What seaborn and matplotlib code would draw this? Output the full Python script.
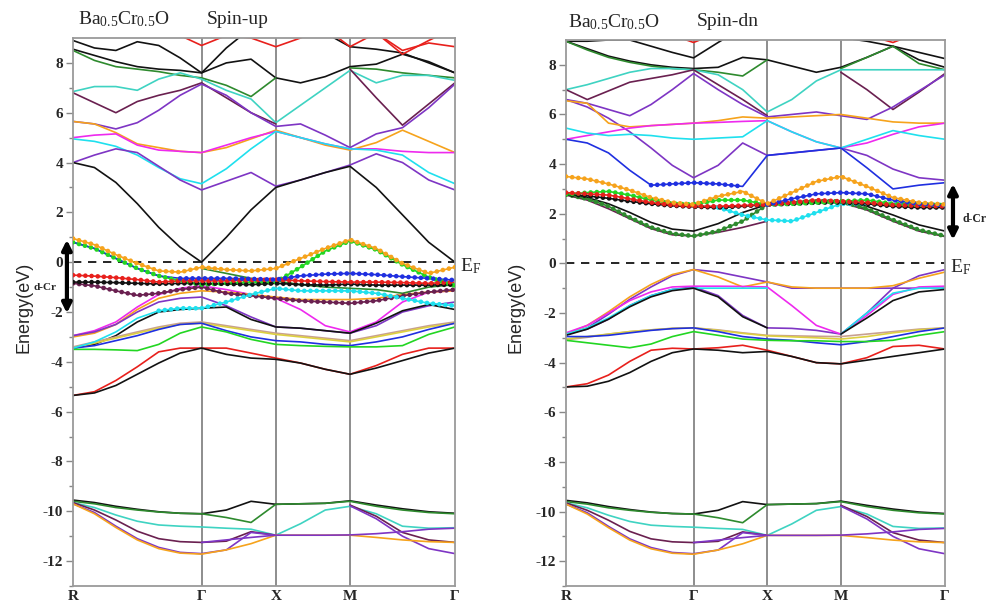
import numpy as np
import pandas as pd
import seaborn as sns
import matplotlib.pyplot as plt

# k-path: R - Gamma - X - M - Gamma (cubic cell, 2pi/a units)
K_NODES = [0.0, 0.866, 1.366, 1.866, 2.573]
K_LABELS = ["R", "Γ", "X", "M", "Γ"]
SEG_STEPS = [6, 3, 3, 4]
nan = np.nan

COLORS = {
    "black": "#121212", "red": "#e8201c", "green": "#22d622", "dkgreen": "#2e8a2e",
    "turq": "#3fd3c2", "cyan": "#1fe0ee", "magenta": "#ee2aee", "purple": "#7e35c4",
    "maroon": "#6a2050", "orange": "#f6a31c", "blue": "#1f2fe0", "tan": "#c8a090",
    "yellow": "#ddd040",
}

# ---------------- spin-up (left) ----------------
up_black_a = [8.9, 8.6, 8.5, 8.85, 8.7, 8.2, 7.6, 8.6, 9.4, 9.6, 9.6, 9.2, 8.65, 8.55, 8.4, 8.0, 7.6]
up_black_b = [8.55, 8.3, 8.05, 7.85, 7.75, 7.7, 7.6, 8.0, 8.15, 7.4, 7.2, 7.45, 7.85, 7.95, 8.35, 8.05, 7.6]
up_red_a = [9.8, 9.8, 9.8, 9.8, 9.6, 9.1, 8.7, 9.1, 9.0, 8.65, 9.0, 9.5, 9.6, 9.2, 8.35, 8.9, 9.4]
up_red_b = [nan, nan, nan, nan, nan, nan, nan, nan, nan, nan, nan, 9.4, 8.65, 9.2, 8.5, 8.8, 8.65]
up_green_a = [8.5, 8.1, 7.85, 7.75, 7.65, 7.5, 7.4, 7.1, 6.65, 7.4, nan, nan, 7.8, 7.75, 7.6, 7.5, 7.4]
up_turq_a = [6.85, 7.05, 7.05, 6.9, 7.35, 7.6, 7.35, 6.9, 6.55, 5.6, 6.3, 7.0, 7.7, 7.2, 7.5, 7.5, 7.3]
up_maroon_a = [6.8, 6.4, 6.0, 6.45, 6.7, 6.9, 7.2, 6.6, 6.0, 5.55, nan, nan, 7.75, 6.6, 5.5, 6.35, 7.2]
up_purple_a = [5.65, 5.55, 5.35, 5.6, 6.1, 6.7, 7.15, 6.7, 6.0, 5.45, 5.55, 5.1, 4.6, 5.15, 5.4, 6.2, 7.15]
up_orange_a = [5.65, 5.55, 5.2, 4.75, 4.6, 4.45, 4.4, 4.6, 4.95, 5.3, 5.0, 4.7, 4.5, 4.8, 5.3, 4.85, 4.4]
up_magenta_a = [5.0, 5.1, 5.15, 4.7, 4.5, 4.45, 4.4, 4.7, 5.0, 5.25, 5.0, 4.75, 4.55, 4.55, 4.45, 4.4, 4.4]
up_cyan_a = [4.95, 4.85, 4.65, 4.3, 3.8, 3.35, 3.15, 3.75, 4.55, 5.25, 5.0, 4.75, 4.55, 4.5, 4.3, 3.6, 3.15]
up_purple_b = [4.0, 4.3, 4.55, 4.4, 3.85, 3.3, 2.9, 3.25, 3.6, 3.05, 3.3, 3.6, 3.9, 4.35, 4.0, 3.3, 2.9]
up_black_c = [4.0, 3.8, 3.2, 2.35, 1.4, 0.6, 0.0, 1.0, 2.1, 3.0, 3.3, 3.6, 3.85, 3.0, 1.9, 0.8, 0.0]
# d-Cr bands around E_F
up_orange_d = [0.95, 0.7, 0.3, -0.05, -0.35, -0.4, -0.2, -0.3, -0.35, -0.25, 0.15, 0.55, 0.9, 0.55, -0.05, -0.45, -0.2]
up_green_d = [0.8, 0.55, 0.15, -0.25, -0.55, -0.75, -0.9, -0.85, -0.8, -0.8, -0.2, 0.45, 0.85, 0.5, -0.1, -0.6, -0.95]
up_blue_d = [0.8, 0.55, 0.15, -0.25, -0.55, -0.65, -0.65, -0.65, -0.67, -0.7, -0.55, -0.48, -0.45, -0.5, -0.58, -0.65, -0.72]
up_red_d = [-0.52, -0.56, -0.62, -0.7, -0.8, -0.75, -0.75, -0.75, -0.72, -0.7, -0.75, -0.78, -0.8, -0.8, -0.82, -0.85, -0.8]
up_black_d = [-0.8, -0.8, -0.82, -0.85, -0.87, -0.85, -0.85, -0.87, -0.9, -0.85, -0.9, -0.92, -0.88, -0.92, -0.92, -0.92, -0.9]
up_dkgreen_d = [nan, nan, nan, nan, nan, nan, -0.25, -0.45, -0.65, -0.75, -0.9, -1.0, -1.05, -1.1, -1.25, -1.0, -0.9]
up_maroon_d = [-0.85, -0.95, -1.15, -1.33, -1.25, -1.1, -1.0, -1.25, -1.35, -1.45, -1.55, -1.6, -1.65, -1.55, -1.35, -1.2, -1.1]
up_cyan_d = [-3.45, -3.2, -2.8, -2.25, -1.95, -1.85, -1.85, -1.6, -1.3, -1.05, -1.15, -1.15, -1.15, -1.25, -1.45, -1.65, -1.75]
# valence bands
up_magenta_l = [-2.95, -2.75, -2.4, -1.8, -1.3, -1.05, -0.95, -1.1, -1.3, -1.45, -1.9, -2.55, -2.8, -2.4, -1.6, -1.2, -1.15]
up_orange_l = [-3.0, -2.85, -2.5, -1.9, -1.45, -1.25, -1.15, -1.2, -1.3, -1.4, -1.5, -1.5, -1.5, -1.45, -1.3, -1.2, -1.15]
up_purple_l = [-2.95, -2.8, -2.5, -2.0, -1.6, -1.45, -1.4, -1.75, -2.2, -2.6, -2.65, -2.75, -2.85, -2.55, -2.0, -1.75, -1.6]
up_black_l = [-3.45, -3.3, -2.95, -2.4, -2.0, -1.9, -1.85, -1.8, -2.3, -2.6, -2.65, -2.75, -2.85, -2.45, -1.95, -1.7, -1.9]
up_tan_l = [-3.4, -3.2, -3.0, -2.8, -2.6, -2.45, -2.4, -2.55, -2.7, -2.85, -2.95, -3.05, -3.15, -2.95, -2.75, -2.55, -2.4]
up_yellow_l = [-3.45, -3.25, -3.05, -2.85, -2.65, -2.5, -2.45, -2.6, -2.75, -2.9, -3.0, -3.1, -3.2, -3.0, -2.8, -2.6, -2.45]
up_blue_l = [-3.45, -3.35, -3.15, -2.95, -2.7, -2.5, -2.45, -2.75, -3.0, -3.15, -3.2, -3.3, -3.35, -3.2, -3.0, -2.7, -2.45]
up_green_l = [-3.5, -3.5, -3.52, -3.55, -3.3, -2.85, -2.6, -2.8, -3.1, -3.3, -3.35, -3.38, -3.4, -3.4, -3.35, -2.9, -2.6]
up_red_l = [-5.35, -5.2, -4.75, -4.2, -3.6, -3.45, -3.45, -3.45, -3.65, -3.85, -4.05, -4.3, -4.5, -4.15, -3.7, -3.45, -3.45]
up_black_l2 = [-5.35, -5.25, -4.95, -4.5, -4.05, -3.65, -3.45, -3.7, -3.85, -3.9, -4.05, -4.3, -4.5, -4.25, -3.95, -3.65, -3.45]

# ---------------- spin-down (right) ----------------
dn_black_a = [8.95, 8.95, 9.0, 9.0, 8.75, 8.5, 8.28, 8.9, 9.5, 9.8, 9.8, 9.6, 9.1, 8.95, 8.75, 8.5, 8.25]
dn_black_b = [8.95, 8.65, 8.35, 8.15, 8.0, 7.9, 7.85, 7.9, 8.3, 8.2, 7.95, 7.7, 7.9, 8.3, 8.75, 8.2, 7.9]
dn_red_a = [9.8, 9.8, 9.8, 9.8, 9.6, 9.2, 8.9, 9.3, 9.8, 9.8, 9.8, 9.8, 9.6, 9.2, 8.9, 9.3, 9.0]
dn_green_a = [8.95, 8.6, 8.3, 8.1, 7.95, 7.85, 7.8, 7.7, 7.55, 8.2, nan, nan, 7.85, 8.3, 8.75, 8.05, 7.8]
dn_turq_a = [7.0, 7.2, 7.45, 7.7, 7.85, 7.85, 7.8, 7.6, 7.0, 6.1, 6.6, 7.35, 7.8, 7.8, 7.8, 7.8, 7.8]
dn_maroon_a = [7.0, 6.6, 6.95, 7.3, 7.45, 7.6, 7.8, 7.2, 6.6, 5.95, nan, nan, 7.7, 7.0, 6.2, 6.9, 7.65]
dn_purple_a = [6.6, 6.45, 6.2, 5.95, 6.4, 7.0, 7.65, 7.0, 6.4, 5.9, 6.0, 6.1, 5.95, 5.8, 6.3, 6.95, 7.6]
dn_purple_b = [6.6, 6.3, 5.85, 5.3, 4.65, 3.95, 3.45, 3.95, 4.85, 4.35, 4.45, 4.55, 4.65, 4.35, 3.8, 3.45, 3.35]
dn_orange_a = [6.55, 6.45, 5.65, 5.5, 5.55, 5.6, 5.65, 5.75, 5.9, 5.85, 5.9, 5.95, 6.0, 5.85, 5.7, 5.65, 5.65]
dn_magenta_a = [5.0, 5.15, 5.3, 5.45, 5.55, 5.6, 5.65, 5.68, 5.72, 5.75, 5.3, 4.9, 4.65, 4.85, 5.2, 5.5, 5.65]
dn_cyan_a = [5.45, 5.25, 5.15, 5.2, 5.15, 5.05, 5.0, 5.05, 5.1, 5.75, 5.3, 4.9, 4.65, 5.0, 5.35, 5.15, 5.0]
dn_blue_a = [5.0, 4.85, 4.45, 3.75, 3.15, 3.2, 3.25, 3.2, 3.1, 4.35, 4.45, 4.55, 4.65, 3.85, 3.0, 3.15, 3.25]
# d-Cr bands (unoccupied)
dn_orange_d = [3.5, 3.4, 3.2, 2.95, 2.65, 2.45, 2.37, 2.7, 2.9, 2.4, 2.85, 3.3, 3.5, 3.1, 2.65, 2.45, 2.37]
dn_blue_d = [nan, nan, nan, nan, nan, nan, nan, nan, nan, 2.37, 2.6, 2.8, 2.85, 2.8, 2.55, 2.4, 2.35]
dn_red_d = [2.85, 2.8, 2.75, 2.6, 2.45, 2.35, 2.3, 2.3, 2.33, 2.37, 2.45, 2.55, 2.5, 2.45, 2.35, 2.32, 2.3]
dn_black_d = [2.78, 2.72, 2.62, 2.5, 2.4, 2.32, 2.28, 2.25, 2.3, 2.37, 2.4, 2.45, 2.45, 2.4, 2.3, 2.25, 2.25]
dn_green_d = [2.78, 2.85, 2.9, 2.75, 2.55, 2.4, 2.37, 2.55, 2.55, 2.37, 2.4, 2.45, 2.5, 2.55, 2.4, 2.35, 2.35]
dn_dkgreen_d = [2.78, 2.6, 2.3, 1.85, 1.45, 1.2, 1.1, 1.3, 1.7, 2.37, 2.45, 2.5, 2.5, 2.2, 1.75, 1.35, 1.1]
dn_black_e = [2.78, 2.65, 2.4, 2.05, 1.65, 1.38, 1.3, 1.6, 2.05, 2.37, 2.42, 2.48, 2.5, 2.3, 1.95, 1.55, 1.3]
dn_maroon_d = [2.75, 2.55, 2.2, 1.8, 1.4, 1.15, 1.1, 1.25, 1.45, 1.7, nan, nan, 2.45, 2.15, 1.7, 1.3, 1.08]
dn_cyan_d = [nan, nan, nan, nan, nan, nan, 2.35, 2.25, 1.95, 1.75, 1.7, 2.05, 2.4, 2.4, 2.35, 2.3, 2.3]
# valence bands
dn_purple_v1 = [-2.88, -2.6, -2.05, -1.45, -0.95, -0.5, -0.25, -0.35, -0.55, -0.75, -1.0, -1.0, -1.0, -1.0, -1.0, -1.0, -1.0]
dn_purple_v2 = [-2.85, -2.65, -2.25, -1.7, -1.3, -1.05, -0.95, -1.3, -2.1, -2.6, -2.62, -2.7, -2.85, -2.0, -1.0, -0.5, -0.25]
dn_orange_v = [-2.85, -2.5, -1.95, -1.35, -0.85, -0.45, -0.25, -0.55, -0.95, -0.75, -0.95, -1.0, -1.0, -1.0, -0.9, -0.6, -0.35]
dn_magenta_v = [-2.8, -2.5, -2.0, -1.5, -1.15, -0.95, -0.92, -0.92, -0.93, -0.95, -1.7, -2.5, -2.85, -2.1, -1.25, -0.95, -0.92]
dn_cyan_v = [-2.85, -2.6, -2.2, -1.7, -1.3, -1.05, -1.0, -1.0, -1.0, -1.0, nan, nan, -2.85, -2.0, -1.2, -1.0, -1.0]
dn_black_v = [-2.9, -2.65, -2.25, -1.75, -1.35, -1.1, -1.0, -1.35, -2.15, -2.6, nan, nan, -2.85, -2.2, -1.5, -1.15, -1.05]
dn_tan_v = [-3.08, -2.98, -2.85, -2.75, -2.68, -2.62, -2.6, -2.68, -2.8, -2.9, -2.92, -2.94, -2.95, -2.85, -2.75, -2.65, -2.6]
dn_yellow_v = [-3.05, -2.95, -2.85, -2.75, -2.68, -2.62, -2.6, -2.7, -2.82, -2.92, -2.96, -3.0, -3.05, -2.95, -2.8, -2.68, -2.6]
dn_blue_v = [-2.95, -2.95, -2.9, -2.8, -2.7, -2.63, -2.6, -2.75, -2.95, -3.05, -3.1, -3.2, -3.28, -3.15, -2.95, -2.75, -2.6]
dn_green_v = [-3.1, -3.2, -3.3, -3.4, -3.25, -2.95, -2.75, -2.9, -3.05, -3.1, -3.12, -3.12, -3.15, -3.15, -3.1, -2.9, -2.75]
dn_red_v = [-4.98, -4.85, -4.5, -3.95, -3.5, -3.42, -3.45, -3.4, -3.3, -3.5, -3.75, -4.0, -4.05, -3.8, -3.35, -3.3, -3.45]
dn_black_v2 = [-4.98, -4.95, -4.75, -4.4, -3.95, -3.6, -3.45, -3.5, -3.6, -3.55, -3.75, -4.0, -4.05, -3.9, -3.75, -3.6, -3.45]

# ---------------- semicore bands (same in both spins) ----------------
core_black = [-9.55, -9.65, -9.8, -9.92, -10.02, -10.08, -10.1, -9.95, -9.6, -9.72, -9.7, -9.68, -9.58, -9.75, -9.9, -10.02, -10.08]
core_green = [-9.6, -9.7, -9.85, -9.95, -10.03, -10.08, -10.1, -10.25, -10.45, -9.72, -9.7, -9.68, -9.6, -9.8, -9.95, -10.05, -10.1]
core_cyan = [-9.65, -9.85, -10.15, -10.4, -10.55, -10.6, -10.63, -10.68, -10.72, -10.96, -10.5, -9.95, -9.8, -10.1, -10.6, -10.68, -10.66]
core_maroon = [-9.65, -9.95, -10.35, -10.8, -11.1, -11.22, -11.25, -11.2, -10.82, -10.96, nan, nan, -9.75, -10.2, -10.85, -11.15, -11.25]
core_purple = [-9.7, -10.05, -10.6, -11.1, -11.45, -11.65, -11.7, -11.55, -10.85, -10.96, nan, nan, -9.78, -10.3, -11.0, -11.5, -11.7]
core_orange = [-9.7, -10.1, -10.65, -11.15, -11.5, -11.68, -11.72, -11.55, -11.3, -10.96, -10.96, -10.96, -10.96, -11.05, -11.15, -11.22, -11.25]
core_flat = [nan, nan, nan, nan, nan, nan, -11.25, -11.15, -11.05, -10.96, -10.96, -10.96, -10.95, -10.9, -10.82, -10.72, -10.68]

ALL = (0, 16)
CORE = [("black", core_black, None), ("dkgreen", core_green, None), ("turq", core_cyan, None),
        ("maroon", core_maroon, None), ("purple", core_purple, None), ("orange", core_orange, None),
        ("purple", core_flat, None)]

BANDS_UP = [
    ("black", up_black_a, None), ("black", up_black_b, None), ("red", up_red_a, None),
    ("red", up_red_b, None), ("dkgreen", up_green_a, None), ("turq", up_turq_a, None),
    ("maroon", up_maroon_a, None), ("purple", up_purple_a, None), ("orange", up_orange_a, None),
    ("magenta", up_magenta_a, None), ("cyan", up_cyan_a, None), ("purple", up_purple_b, None),
    ("black", up_black_c, None),
    ("magenta", up_magenta_l, None), ("orange", up_orange_l, None), ("purple", up_purple_l, None),
    ("black", up_black_l, None), ("tan", up_tan_l, None), ("yellow", up_yellow_l, None),
    ("blue", up_blue_l, None), ("green", up_green_l, None), ("red", up_red_l, None),
    ("black", up_black_l2, None),
    ("dkgreen", up_dkgreen_d, None), ("maroon", up_maroon_d, ALL), ("cyan", up_cyan_d, (4, 16)),
    ("green", up_green_d, ALL), ("black", up_black_d, ALL), ("red", up_red_d, ALL),
    ("blue", up_blue_d, (5, 16)), ("orange", up_orange_d, ALL),
] + CORE

BANDS_DN = [
    ("black", dn_black_a, None), ("black", dn_black_b, None), ("red", dn_red_a, None),
    ("dkgreen", dn_green_a, None), ("turq", dn_turq_a, None), ("maroon", dn_maroon_a, None),
    ("purple", dn_purple_a, None), ("purple", dn_purple_b, None), ("orange", dn_orange_a, None),
    ("magenta", dn_magenta_a, None), ("cyan", dn_cyan_a, None), ("blue", dn_blue_a, (4, 8)),
    ("maroon", dn_maroon_d, None), ("black", dn_black_e, None), ("dkgreen", dn_dkgreen_d, ALL),
    ("cyan", dn_cyan_d, (7, 13)), ("black", dn_black_d, ALL), ("green", dn_green_d, ALL),
    ("red", dn_red_d, ALL), ("blue", dn_blue_d, (9, 16)), ("orange", dn_orange_d, ALL),
    ("purple", dn_purple_v1, None), ("purple", dn_purple_v2, None), ("orange", dn_orange_v, None),
    ("magenta", dn_magenta_v, None), ("cyan", dn_cyan_v, None), ("black", dn_black_v, None),
    ("tan", dn_tan_v, None), ("yellow", dn_yellow_v, None), ("blue", dn_blue_v, None),
    ("green", dn_green_v, None), ("red", dn_red_v, None), ("black", dn_black_v2, None),
] + CORE


def k_grid():
    pts = [K_NODES[0]]
    for a, b, n in zip(K_NODES[:-1], K_NODES[1:], SEG_STEPS):
        pts += list(np.linspace(a, b, n + 1)[1:])
    return np.array(pts)


def to_frames(bands):
    k = k_grid()
    lines, fats, pal = [], [], {}
    for i, (color, vals, fat) in enumerate(bands):
        name = f"b{i}"
        pal[name] = COLORS[color]
        e = pd.Series(vals, dtype=float)
        d = pd.DataFrame({"k": k, "E": e, "band": name, "seg": e.isna().cumsum()})
        lines.append(d.dropna())
        if fat is not None:
            fats.append(d.iloc[fat[0]:fat[1] + 1].dropna())
    return pd.concat(lines), pd.concat(fats), pal


sns.set_theme(style="white")
plt.rcParams["font.family"] = ["Liberation Serif", "DejaVu Serif"]
plt.rcParams["mathtext.fontset"] = "custom"
plt.rcParams["mathtext.rm"] = "Liberation Serif"
plt.rcParams["mathtext.it"] = "Liberation Serif"
plt.rcParams["axes.unicode_minus"] = False

fig = plt.figure(figsize=(10.03, 6.07), dpi=100)
axL = fig.add_axes([0.0728, 0.0346, 0.3808, 0.9028])
axR = fig.add_axes([0.5643, 0.0346, 0.3779, 0.8995])

for ax, bands in [(axL, BANDS_UP), (axR, BANDS_DN)]:
    lines, fats, pal = to_frames(bands)
    for kx in K_NODES[1:-1]:
        ax.axvline(kx, color="#7a7a7a", lw=1.2, zorder=1)
    ax.axhline(0, color="black", lw=1.2, ls=(0, (5, 4)), zorder=1)
    sns.lineplot(data=lines, x="k", y="E", hue="band", units="seg", estimator=None,
                 palette=pal, sort=False, legend=False, lw=1.2, ax=ax, zorder=2)
    sns.lineplot(data=fats, x="k", y="E", hue="band", units="seg", estimator=None,
                 palette=pal, sort=False, legend=False, lw=3.4, ax=ax, zorder=3,
                 linestyle=(0, (0.01, 1.3)), dash_capstyle="round")
    ax.set_xlim(K_NODES[0], K_NODES[-1])
    ax.set_ylim(-13, 9)
    ax.set_xticks(K_NODES)
    ax.set_xticklabels(K_LABELS)
    ax.set_yticks(range(-12, 9, 2))
    ax.set_yticks(range(-13, 9, 2), minor=True)
    ax.tick_params(axis="y", which="major", direction="out", length=5, width=1,
                   color="#888888", labelsize=11, pad=2, left=True)
    ax.tick_params(axis="y", which="minor", direction="out", length=3, width=1,
                   color="#888888", left=True)
    ax.tick_params(axis="x", length=0, labelsize=11, pad=3)
    for lab in ax.get_xticklabels() + ax.get_yticklabels():
        lab.set_fontweight("bold")
    ax.set_xlabel("")
    ax.set_ylabel("")
    for s in ax.spines.values():
        s.set_color("#9a9a9a")
        s.set_linewidth(1.3)
    ax.text(1.013, -0.15, r"E$_\mathrm{F}$", transform=ax.get_yaxis_transform(),
            fontsize=14, ha="left", va="center", clip_on=False)

# titles
fig.text(0.078, 0.968, r"Ba$_{0.5}$Cr$_{0.5}$O", fontsize=14, ha="left", va="center")
fig.text(0.206, 0.968, "Spin-up", fontsize=14, ha="left", va="center")
fig.text(0.566, 0.964, r"Ba$_{0.5}$Cr$_{0.5}$O", fontsize=14, ha="left", va="center")
fig.text(0.695, 0.964, "Spin-dn", fontsize=14, ha="left", va="center")

# axis titles
for xf in (0.024, 0.514):
    fig.text(xf, 0.493, "Energy(eV)", rotation=90, fontsize=13, ha="center", va="center",
             family=["Liberation Sans", "DejaVu Sans"])

# d-Cr arrows
arrow = dict(arrowstyle="<|-|>", color="black", lw=3, mutation_scale=14, shrinkA=0, shrinkB=0)
axL.annotate("", xy=(-0.016, -2.05), xytext=(-0.016, 0.9), xycoords=axL.get_yaxis_transform(),
             textcoords=axL.get_yaxis_transform(), arrowprops=arrow, annotation_clip=False)
axL.text(-0.073, -1.0, "d-Cr", transform=axL.get_yaxis_transform(), fontsize=8,
         fontweight="bold", ha="center", va="center")
axR.annotate("", xy=(1.021, 0.95), xytext=(1.021, 3.2), xycoords=axR.get_yaxis_transform(),
             textcoords=axR.get_yaxis_transform(), arrowprops=arrow, annotation_clip=False)
axR.text(1.079, 1.8, "d-Cr", transform=axR.get_yaxis_transform(), fontsize=8.5,
         fontweight="bold", ha="center", va="center")

fig.savefig("out.png", dpi=100)
